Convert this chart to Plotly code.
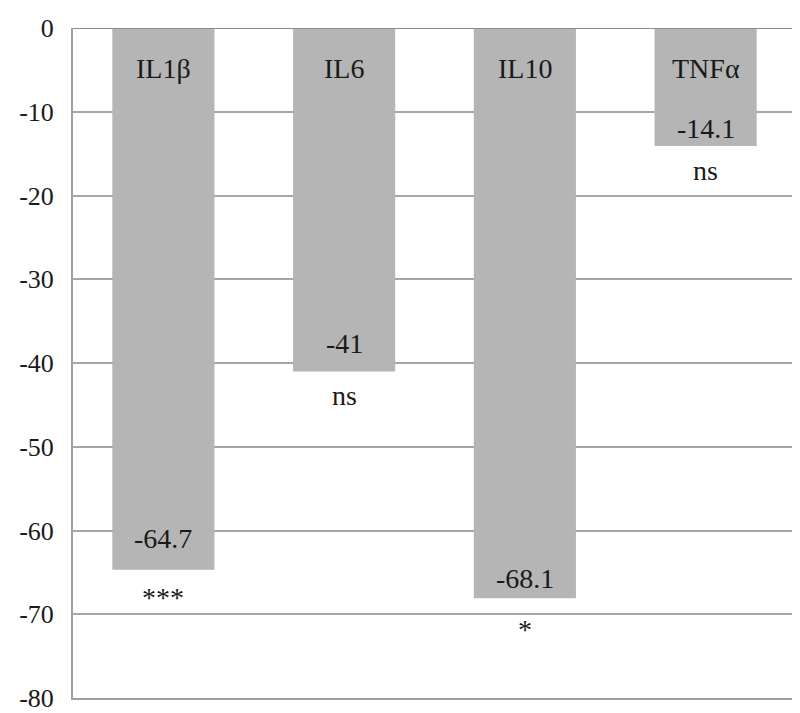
import plotly.graph_objects as go

cytokines = ["IL1β", "IL6", "IL10", "TNFα"]
change = [-64.7, -41, -68.1, -14.1]
value_text = ["-64.7", "-41", "-68.1", "-14.1"]
significance = ["***", "ns", "*", "ns"]

y_ticks = [0, -10, -20, -30, -40, -50, -60, -70, -80]

# pixel offsets of the labels relative to each bar end
value_shift = [31, 28, 20, 18]
sig_shift = [-28, -24, -31, -24]

text_font = dict(family="Liberation Serif", size=28, color="#1a1a1a")

fig = go.Figure()
fig.add_trace(go.Bar(
    x=cytokines, y=change,
    marker=dict(color="#b5b5b5", line=dict(width=0)),
    hoverinfo="skip",
))

for i, c in enumerate(cytokines):
    fig.add_annotation(x=c, y=0, yshift=-40, text=c, showarrow=False,
                       font=text_font, yanchor="middle")
    fig.add_annotation(x=c, y=change[i], yshift=value_shift[i], text=value_text[i],
                       showarrow=False, font=text_font, yanchor="middle")
    fig.add_annotation(x=c, y=change[i], yshift=sig_shift[i], text=significance[i],
                       showarrow=False, font=text_font, yanchor="middle")

# darker line along zero, drawn over the bars
fig.add_shape(type="line", xref="paper", x0=0, x1=1, yref="y", y0=0, y1=0,
              line=dict(color="#8c8c8c", width=2), layer="above")

fig.update_layout(
    width=800, height=713,
    margin=dict(l=65, r=12, t=20, b=23, autoexpand=False),
    plot_bgcolor="white", paper_bgcolor="white",
    bargap=0.435,
    showlegend=False,
    xaxis=dict(showticklabels=False, showgrid=False, zeroline=False, automargin=False,
               showline=True, linecolor="#a0a0a0", linewidth=2, ticks=""),
    yaxis=dict(range=[-80, 0], tickvals=y_ticks, ticktext=[str(v) for v in y_ticks],
               showgrid=True, gridcolor="#a6a6a6", gridwidth=1.5, automargin=False,
               zeroline=False, showline=True, linecolor="#a0a0a0", linewidth=2,
               ticks="", ticklen=0, ticklabelstandoff=12,
               tickfont=dict(family="Liberation Serif", size=26, color="#1a1a1a")),
)

fig.write_html("out.html")
